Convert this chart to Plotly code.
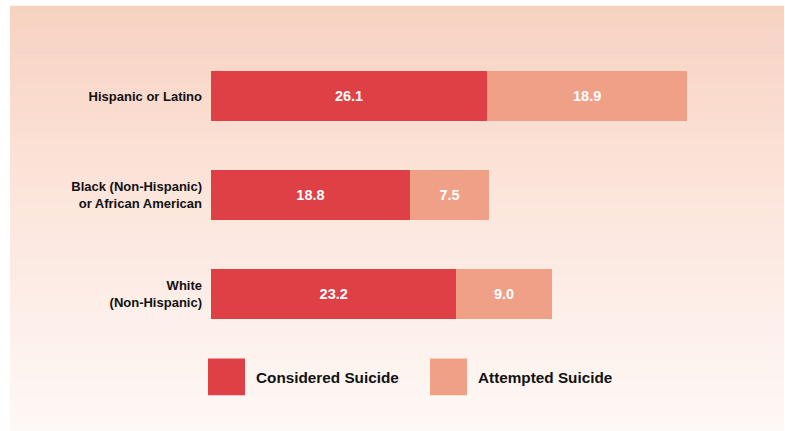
import plotly.graph_objects as go

categories = ["Hispanic or Latino", "Black (Non-Hispanic)<br>or African American", "White<br>(Non-Hispanic)"]
considered = [26.1, 18.8, 23.2]
attempted = [18.9, 7.5, 9.0]
series_names = ["Considered Suicide", "Attempted Suicide"]
colors = ["#DE4045", "#EFA086"]

W, H = 785, 431
fig = go.Figure()
for name, vals, col in zip(series_names, [considered, attempted], colors):
    fig.add_trace(go.Bar(
        y=categories, x=vals, name=name, orientation="h",
        marker=dict(color=col, line=dict(width=0)),
        text=[f"{v:.1f}" for v in vals], textposition="inside",
        insidetextanchor="middle",
        textfont=dict(family="Liberation Sans", size=14.5, color="white"),
        texttemplate="<b>%{text}</b>", hoverinfo="skip",
    ))

# gradient background panel
stops = [(0.0, (247, 209, 192)), (0.45, (252, 229, 219)), (0.85, (253, 243, 239)), (1.0, (254, 249, 246))]
def col_at(t):
    for (t0, c0), (t1, c1) in zip(stops[:-1], stops[1:]):
        if t0 <= t <= t1:
            f = (t - t0) / (t1 - t0)
            return "rgb(%d,%d,%d)" % tuple(round(a + (b - a) * f) for a, b in zip(c0, c1))
    return "rgb(%d,%d,%d)" % stops[-1][1]

PL, PT, PW, PH = 211, 46.5, 529, 297
def px(x):
    return (x - PL) / PW
def py(y):
    return 1 - (y - PT) / PH

shapes = []
top, bot, left, right = 5, 431, 10, 784
n = 60
for i in range(n):
    y0 = top + (bot - top) * i / n
    y1 = top + (bot - top) * (i + 1) / n + 0.5
    shapes.append(dict(type="rect", xref="paper", yref="paper", layer="below",
                       x0=px(left), x1=px(right), y0=py(y0), y1=py(y1),
                       fillcolor=col_at((y0 + y1) / 2 / H), line=dict(width=0)))

# legend (manual squares)
leg_x = [208, 430]
annotations = []
for lx, name, col in zip(leg_x, series_names, colors):
    shapes.append(dict(type="rect", xref="paper", yref="paper",
                       x0=px(lx), x1=px(lx + 37), y0=py(359), y1=py(396),
                       fillcolor=col, line=dict(width=0)))
    annotations.append(dict(xref="paper", yref="paper", x=px(lx + 46),
                            y=py(378), xanchor="left", yanchor="middle",
                            text=f"<b>{name}</b>", showarrow=False,
                            font=dict(family="Liberation Sans", size=15.3, color="#111111")))

fig.update_layout(
    width=W, height=H, barmode="stack", bargap=0.495, showlegend=False,
    paper_bgcolor="white", plot_bgcolor="rgba(0,0,0,0)",
    margin=dict(l=PL, r=W - PL - PW, t=PT, b=H - PT - PH),
    xaxis=dict(range=[0, 50], visible=False, fixedrange=True),
    yaxis=dict(autorange="reversed", showgrid=False, zeroline=False, showline=False,
               ticks="", ticklabelstandoff=8, fixedrange=True,
               tickfont=dict(family="Liberation Sans", size=13, color="#111111")),
    shapes=shapes, annotations=annotations,
    uniformtext=dict(mode="show", minsize=8),
)
fig.update_yaxes(tickvals=categories, ticktext=[f"<b>{c}</b>" for c in categories])
fig.write_html("out.html", config={"displayModeBar": False},
               post_script="document.body.style.margin='0';document.body.style.overflow='hidden';")
